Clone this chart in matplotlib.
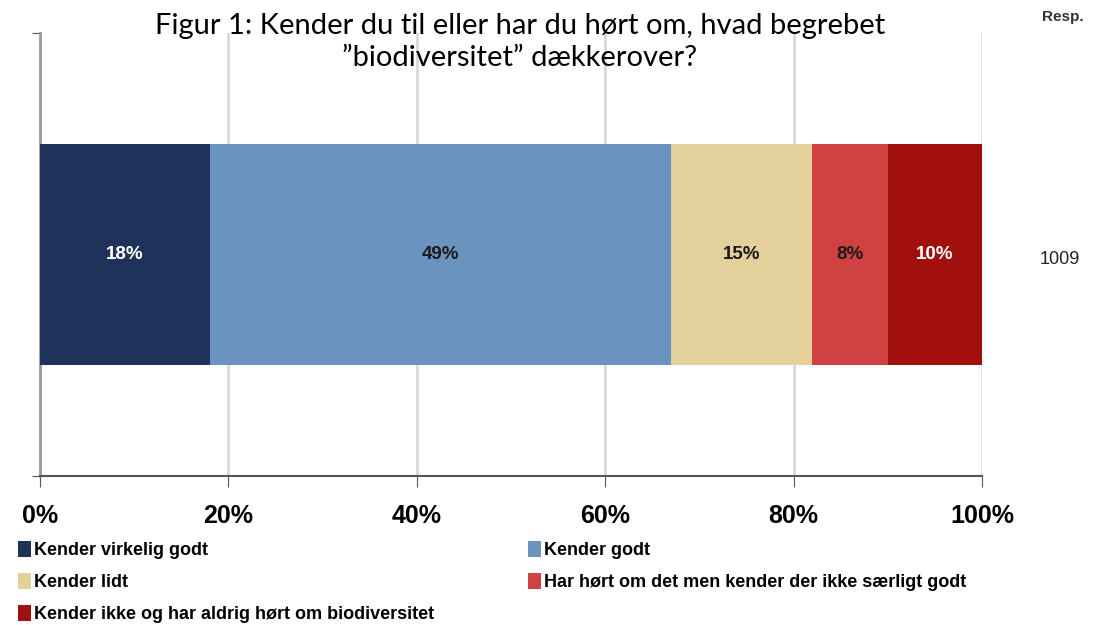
import matplotlib.pyplot as plt
from matplotlib.patches import Patch

categories = [
    "Kender virkelig godt",
    "Kender godt",
    "Kender lidt",
    "Har hørt om det men kender der ikke særligt godt",
    "Kender ikke og har aldrig hørt om biodiversitet",
]
values = [18, 49, 15, 8, 10]
colors = ["#1F3259", "#6B93BF", "#E3D09A", "#D04141", "#A1100D"]
label_colors = ["white", "#1a1a1a", "#1a1a1a", "#1a1a1a", "white"]
respondents = 1009
xticks = [0, 20, 40, 60, 80, 100]

BOLD = ["Liberation Sans Narrow", "Liberation Sans", "DejaVu Sans"]

fig = plt.figure(figsize=(11.09, 6.25), dpi=100)
ax = fig.add_axes([40 / 1109, 1 - 476 / 625, 942 / 1109, 443 / 625])

left = 0
for v, c, lc in zip(values, colors, label_colors):
    ax.barh(0, v, left=left, height=0.5, color=c, zorder=3)
    ax.text(left + v / 2, 0, f"{v}%", ha="center", va="center", color=lc,
            fontsize=13.5, fontweight="bold", family=BOLD, zorder=4)
    left += v

ax.set_xlim(0, 100)
ax.set_ylim(-0.5, 0.5)
ax.set_xticks(xticks)
ax.set_xticklabels([f"{t}%" for t in xticks], fontsize=18, fontweight="bold", family=BOLD)
ax.set_yticks([-0.5, 0.5])
ax.set_yticklabels([])
ax.tick_params(axis="x", length=8, color="#555555", pad=12)
ax.tick_params(axis="y", length=6, color="#555555")
ax.grid(axis="x", color="#d9d9d9", linewidth=2, zorder=0)
for s in ["top", "right"]:
    ax.spines[s].set_visible(False)
ax.spines["left"].set_color("#999999")
ax.spines["left"].set_linewidth(2)
ax.spines["bottom"].set_color("#555555")
ax.spines["bottom"].set_linewidth(1.5)

fig.text(520 / 1109, 1 - 42 / 625, "Figur 1: Kender du til eller har du hørt om, hvad begrebet\n\u201dbiodiversitet\u201d dækkerover?",
         ha="center", va="center", fontsize=21, family=["Lato", "DejaVu Sans"], linespacing=1.25)
fig.text(1063 / 1109, 1 - 17 / 625, "Resp.", ha="center", va="center", fontsize=11,
         fontweight="bold", family=BOLD, color="#333333")
fig.text(1060 / 1109, 1 - 260 / 625, str(respondents), ha="center", va="center", fontsize=13,
         family=BOLD, color="#222222")

handles = [Patch(facecolor=c, edgecolor="none") for c in colors]
leg_kw = dict(loc="upper left", frameon=False, handlelength=0.7, handleheight=1.0,
              handletextpad=0.2, labelspacing=0.76, borderaxespad=0, borderpad=0,
              prop={"family": BOLD, "weight": "bold", "size": 13})
fig.legend([handles[i] for i in (0, 2, 4)], [categories[i] for i in (0, 2, 4)],
           bbox_to_anchor=(18 / 1109, 1 - 541 / 625), **leg_kw)
fig.legend([handles[i] for i in (1, 3)], [categories[i] for i in (1, 3)],
           bbox_to_anchor=(528 / 1109, 1 - 541 / 625), **leg_kw)

fig.savefig("out.png", dpi=100)
